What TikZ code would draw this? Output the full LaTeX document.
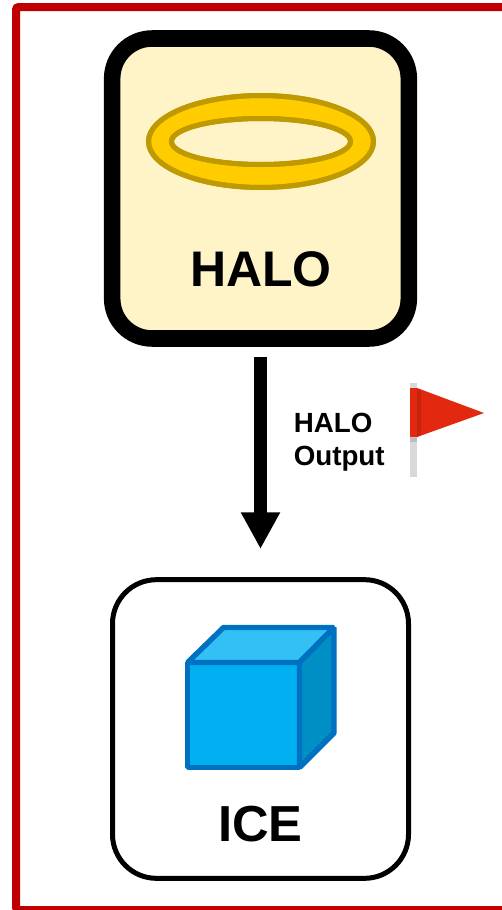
\documentclass[tikz,border=0pt]{standalone}
\usepackage{fontspec}
\setmainfont{Liberation Sans}
\usetikzlibrary{arrows.meta}
\definecolor{frameRed}{HTML}{C00000}
\definecolor{haloFill}{HTML}{FFF3C8}
\definecolor{ringFill}{HTML}{FFCC00}
\definecolor{ringLine}{HTML}{BF9900}
\definecolor{cubeLine}{HTML}{0070C0}
\definecolor{cubeFront}{HTML}{00B0F0}
\definecolor{cubeTop}{HTML}{33C0F5}
\definecolor{cubeSide}{HTML}{008FC4}
\definecolor{flagRed}{HTML}{E2280F}
\definecolor{flagDark}{HTML}{C6240E}
\definecolor{poleGrey}{HTML}{D9D9D9}
\definecolor{poleShade}{HTML}{BDBDBD}
\tikzset{
  bigbox/.style={draw=black,rounded corners=#1,anchor=center,inner sep=0pt},
  cubeface/.style={draw=cubeLine,line width=4pt,line join=bevel},
  ring/.style={draw=ringLine,line width=3.75pt},
  biglabel/.style={font=\bfseries,text=black,inner sep=0pt,anchor=base},
}
\begin{document}
\begin{tikzpicture}[x=0.75pt,y=-0.75pt]
\useasboundingbox (0,0) rectangle (502,910);
\begin{scope}
\clip (0,0) rectangle (502,910);
\fill[white] (0,0) rectangle (502,910);
\draw[frameRed,line width=6pt,rounded corners=2pt] (16,7) rectangle (530,910);
\end{scope}
% HALO box
\node[bigbox=30pt,fill=haloFill,line width=12.4pt,minimum width=222.5pt,minimum height=225pt] (halo) at (260.5,188.5) {};
% ring
\path[ring,fill=ringFill,even odd rule] (261,141.5) ellipse [x radius=112.5,y radius=46] (261,141.5) ellipse [x radius=89.5,y radius=23];
\draw[ring] (261,141.5) ellipse [x radius=112.5,y radius=46];
\draw[ring] (261,141.5) ellipse [x radius=89.5,y radius=23];
\node[biglabel,font=\fontsize{37.5pt}{40pt}\selectfont\bfseries] (halolabel) at (261,286) {HALO};
% ICE box
\node[bigbox=33pt,fill=white,line width=3.75pt,minimum width=222pt,minimum height=224pt] (ice) at (260.5,729) {};
% cube
\draw[cubeface,fill=cubeFront] (187.5,662.5) rectangle (299.5,767.5);
\draw[cubeface,fill=cubeTop] (187.5,662.5) -- (223.5,627.5) -- (334,627.5) -- (299.5,662.5) -- cycle;
\draw[cubeface,fill=cubeSide] (299.5,662.5) -- (334,627.5) -- (334,733) -- (299.5,767.5) -- cycle;
\node[biglabel,font=\fontsize{38pt}{42pt}\selectfont\bfseries] (icelabel) at (260.5,841) {ICE};
% arrow
\coordinate (arrowstart) at (halo.south |- 0,357);
\coordinate (arrowend) at (halo.south |- 0,549);
\draw[line width=9.4pt,-{Triangle[length=27.5pt,width=27.5pt]}] (arrowstart) -- (arrowend);
% label
\node[font=\fontsize{20.8pt}{24.7pt}\selectfont\bfseries,align=left,anchor=north west,inner sep=0pt] (outlabel) at (293.5,413) {HALO\\Output};
% flag
\fill[poleGrey] (410,383) rectangle (417,477);
\fill[poleShade] (410,438) rectangle (417,442);
\fill[flagRed] (410,388) -- (417,388) -- (484,413) -- (417,437) -- (410,437) -- cycle;
\fill[flagDark] (417,389) -- (421,390) -- (421,435) -- (417,437) -- cycle;
\end{tikzpicture}
\end{document}
